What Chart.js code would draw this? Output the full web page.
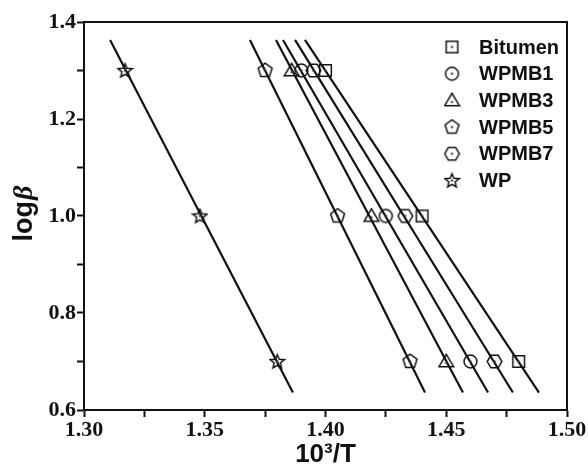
<!DOCTYPE html>
<html lang="en">
<head>
  <meta charset="UTF-8" />
  <title>logβ vs 10³/T</title>
  <script src="https://cdn.jsdelivr.net/npm/chart.js"></script>
  <style>
    html, body { margin: 0; padding: 0; background: #fff; }
    #wrap { position: relative; width: 588px; height: 470px; }
  </style>
</head>
<body>
  <div id="wrap">
    <canvas id="kissinger"></canvas>
  </div>

  <script>
    // heating rates (log beta) shared by every sample
    const logBeta = [1.3, 1.0, 0.7];

    // 10^3/T
    const bitumenX = [1.400, 1.440, 1.480];
    const wpmb1X   = [1.390, 1.425, 1.460];
    const wpmb3X   = [1.386, 1.419, 1.450];
    const wpmb5X   = [1.375, 1.405, 1.435];
    const wpmb7X   = [1.395, 1.433, 1.470];
    const wpX      = [1.317, 1.348, 1.380];

    // fitted lines: y at both ends, x at both ends per sample
    const fitY       = [1.363, 0.636];
    const bitumenFit = [1.3915, 1.4884];
    const wpmb1Fit   = [1.3824, 1.4673];
    const wpmb3Fit   = [1.3795, 1.4569];
    const wpmb5Fit   = [1.3687, 1.4412];
    const wpmb7Fit   = [1.3874, 1.4776];
    const wpFit      = [1.3108, 1.3865];

    const labels  = ["Bitumen", "WPMB1", "WPMB3", "WPMB5", "WPMB7", "WP"];
    const shapes  = ["square", "circle", "triangle", "pentagon", "hexagon", "star"];
    const xSets   = [bitumenX, wpmb1X, wpmb3X, wpmb5X, wpmb7X, wpX];
    const fitSets = [bitumenFit, wpmb1Fit, wpmb3Fit, wpmb5Fit, wpmb7Fit, wpFit];

    const xTicks = [1.30, 1.35, 1.40, 1.45, 1.50];
    const yTicks = [0.6, 0.8, 1.0, 1.2, 1.4];

    // hollow marker with a small dot in the middle
    function makeMarker(shape, size) {
      const c = document.createElement("canvas");
      c.width = size; c.height = size;
      const g = c.getContext("2d");
      const m = size / 2, r = size / 2 - 1.2;
      g.strokeStyle = "#111";
      g.lineWidth = 1.5;
      g.beginPath();
      if (shape === "square") {
        g.rect(m - r * 0.8, m - r * 0.8, r * 1.6, r * 1.6);
      } else if (shape === "circle") {
        g.arc(m, m, r * 0.88, 0, Math.PI * 2);
      } else if (shape === "star") {
        for (let i = 0; i < 10; i++) {
          const a = -Math.PI / 2 + i * Math.PI / 5;
          const rr = i % 2 ? r * 0.45 : r;
          g.lineTo(m + rr * Math.cos(a), m + 0.5 + rr * Math.sin(a));
        }
        g.closePath();
      } else if (shape === "triangle") {
        const h = r * 1.7, b = r * 1.0;
        g.moveTo(m, m - h * 0.58);
        g.lineTo(m + b, m + h * 0.42);
        g.lineTo(m - b, m + h * 0.42);
        g.closePath();
      } else {
        const n = shape === "pentagon" ? 5 : 6;
        const off = shape === "hexagon" ? Math.PI / 6 : 0;
        for (let i = 0; i < n; i++) {
          const a = -Math.PI / 2 + off + i * 2 * Math.PI / n;
          g.lineTo(m + r * Math.cos(a), m + r * Math.sin(a));
        }
        g.closePath();
      }
      g.stroke();
      g.fillStyle = "#444";
      g.beginPath();
      g.arc(m, m + (shape === "triangle" ? 1.5 : 0), 1.2, 0, Math.PI * 2);
      g.fill();
      return c;
    }

    const markers = shapes.map(s => makeMarker(s, 17));

    const datasets = [];
    labels.forEach((name, i) => {
      datasets.push({
        label: name,
        data: logBeta.map((y, k) => ({ x: xSets[i][k], y })),
        showLine: false,
        pointStyle: markers[i],
        pointRadius: 8,
        order: 0
      });
      datasets.push({
        label: "",
        data: fitY.map((y, k) => ({ x: fitSets[i][k], y })),
        showLine: true,
        borderColor: "#111",
        borderWidth: 2.2,
        pointRadius: 0,
        order: 1
      });
    });

    // frame, legend and the mixed-font y title
    const extras = {
      id: "extras",
      afterDraw(chart) {
        const { ctx, chartArea: a } = chart;
        ctx.save();
        ctx.strokeStyle = "#111";
        ctx.lineWidth = 2;
        ctx.strokeRect(a.left, a.top, a.right - a.left, a.bottom - a.top);

        // legend
        ctx.font = "bold 20px 'Liberation Sans', Arial, sans-serif";
        ctx.fillStyle = "#111";
        ctx.textBaseline = "middle";
        labels.forEach((name, i) => {
          const y = 47 + i * 26.7;
          ctx.drawImage(markers[i], 452 - 8.5, y - 8.5);
          ctx.fillText(name, 479, y + 1);
        });

        // y title: log (bold) + beta (italic)
        ctx.translate(24, 214);
        ctx.rotate(-Math.PI / 2);
        const f1 = "bold 27px 'Liberation Sans', Arial, sans-serif";
        const f2 = "italic bold 28px 'Liberation Serif', 'Times New Roman', serif";
        ctx.font = f1; const w1 = ctx.measureText("log").width;
        ctx.font = f2; const w2 = ctx.measureText("β").width;
        const x0 = -(w1 + w2) / 2;
        ctx.textBaseline = "alphabetic";
        ctx.font = f1; ctx.fillText("log", x0, 8);
        ctx.font = f2; ctx.fillText("β", x0 + w1 + 1, 8);
        ctx.restore();
      }
    };

    const tickFont = { family: "'Liberation Serif', 'Times New Roman', serif", size: 22, weight: "bold" };
    const axisGrid = { display: true, drawOnChartArea: false, drawTicks: true, tickLength: 7, tickColor: "#111", tickWidth: 2 };

    new Chart(document.getElementById("kissinger"), {
      type: "scatter",
      data: { datasets },
      plugins: [extras],
      options: {
        responsive: true,
        maintainAspectRatio: false,
        animation: false,
        events: [],
        layout: { padding: { left: 0, top: 22, right: 21, bottom: 0 } },
        plugins: { legend: { display: false }, tooltip: { enabled: false } },
        scales: {
          x: {
            type: "linear",
            min: xTicks[0],
            max: xTicks[xTicks.length - 1],
            afterBuildTicks: s => {
              const t = [];
              for (let v = 1.30; v <= 1.5001; v += 0.025) t.push({ value: +v.toFixed(3) });
              s.ticks = t;
            },
            afterFit: s => { s.height = 60; },
            grid: axisGrid,
            border: { display: true, color: "#111", width: 2 },
            ticks: {
              color: "#111",
              font: tickFont,
              padding: 0,
              maxRotation: 0,
              autoSkip: false,
              callback: v => xTicks.some(t => Math.abs(t - v) < 1e-6) ? v.toFixed(2) : ""
            },
            title: {
              display: true,
              text: "10³/T",
              color: "#111",
              font: { family: "'Liberation Sans', Arial, sans-serif", size: 26, weight: "bold" },
              padding: { top: -4, bottom: 0 }
            }
          },
          y: {
            type: "linear",
            min: yTicks[0],
            max: yTicks[yTicks.length - 1],
            afterBuildTicks: s => {
              const t = [];
              for (let v = 0.6; v <= 1.4001; v += 0.1) t.push({ value: +v.toFixed(2) });
              s.ticks = t;
            },
            afterFit: s => { s.width = 84; },
            grid: axisGrid,
            border: { display: true, color: "#111", width: 2 },
            ticks: {
              color: "#111",
              font: tickFont,
              padding: 1,
              autoSkip: false,
              callback: v => yTicks.some(t => Math.abs(t - v) < 1e-6) ? v.toFixed(1) : ""
            }
          }
        }
      }
    });
  </script>
</body>
</html>
